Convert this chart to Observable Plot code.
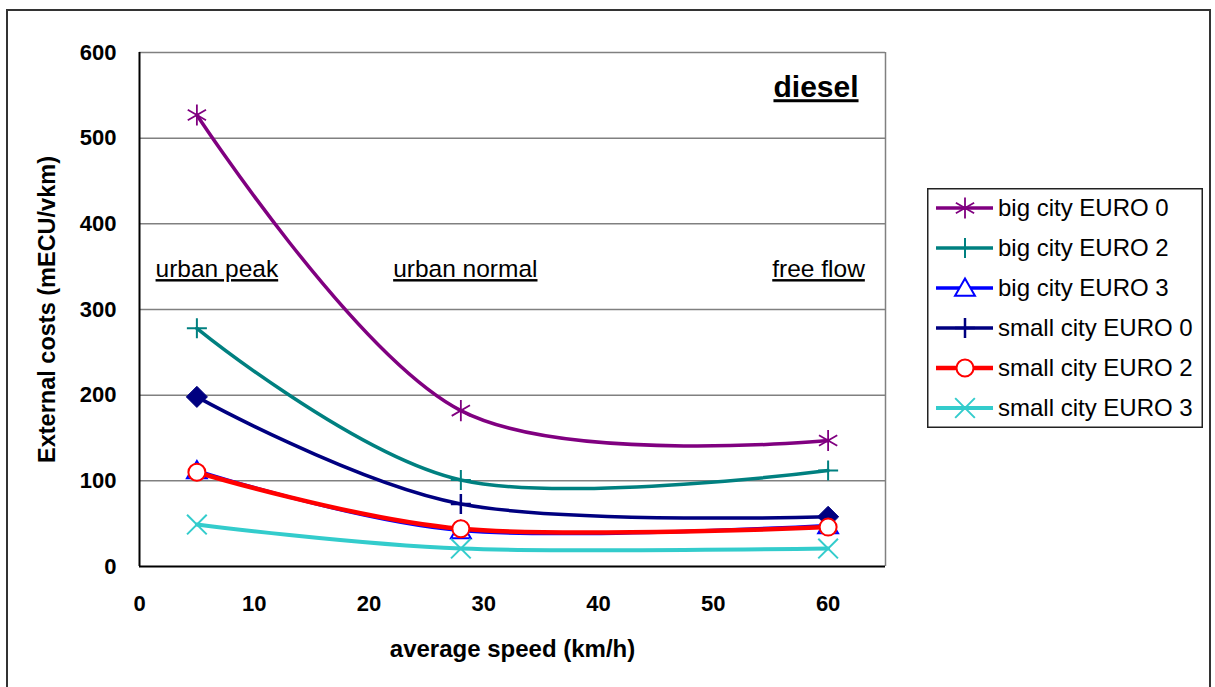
<!DOCTYPE html>
<html>
<head>
<meta charset="utf-8">
<script src="https://cdn.jsdelivr.net/npm/d3@7"></script>
<script src="https://cdn.jsdelivr.net/npm/@observablehq/plot@0.6"></script>
<style>
  html, body { margin: 0; padding: 0; background: #fff; overflow: hidden; }
  #wrap { position: relative; width: 1215px; height: 687px; font-family: "Liberation Sans", Arial, sans-serif; }
  #frame { position: absolute; left: 6px; top: 9px; width: 1205px; height: 700px; border: 2px solid #333; border-bottom: none; box-sizing: border-box; }
  #chart { position: absolute; left: 0; top: 0; }
  #legend { position: absolute; left: 927px; top: 188px; }
</style>
</head>
<body>
<div id="wrap">
  <div id="frame"></div>
  <div id="chart"></div>
  <div id="legend"></div>
</div>
<script>
// ---- data ----
const speeds = [5, 28, 60];
const seriesNames = ["big city EURO 0", "big city EURO 2", "big city EURO 3", "small city EURO 0", "small city EURO 2", "small city EURO 3"];
const bigCityEuro0 = [527, 182, 147];
const bigCityEuro2 = [278, 101, 112];
const bigCityEuro3 = [112, 42, 48];
const smallCityEuro0 = [198, 73, 58];
const smallCityEuro2 = [110, 44, 46];
const smallCityEuro3 = [49, 21, 21];
const xTicks = [0, 10, 20, 30, 40, 50, 60];
const yTicks = [0, 100, 200, 300, 400, 500, 600];
const regionLabels = ["urban peak", "urban normal", "free flow"];
const fuelLabel = "diesel";

const seriesValues = [bigCityEuro0, bigCityEuro2, bigCityEuro3, smallCityEuro0, smallCityEuro2, smallCityEuro3];
const rows = seriesNames.flatMap((name, i) => speeds.map((s, j) => ({series: name, speed: s, cost: seriesValues[i][j], idx: j})));
const bySeries = name => rows.filter(d => d.series === name);

// ---- styles ----
const FONT = "'Liberation Sans', Arial, sans-serif";
const styles = [
  {color: "#800080", width: 3.5, symbol: "asterisk", r: 10, sw: 1.8, fill: "none"},
  {color: "#008080", width: 3.5, symbol: "plus", r: 6.5, sw: 2, fill: "none"},
  {color: "#0000FF", width: 3.5, symbol: "triangle2", r: 9.5, sw: 2, fill: "white"},
  {color: "#000080", width: 3.5, symbol: "plus", r: 6.5, sw: 2.5, fill: "none"},
  {color: "#FF0000", width: 4.5, symbol: "circle", r: 8.5, sw: 2, fill: "white"},
  {color: "#33CCCC", width: 4, symbol: "times", r: 9, sw: 2, fill: "none"}
];

const seriesMarks = seriesNames.flatMap((name, i) => {
  const st = styles[i];
  const data = bySeries(name);
  const line = Plot.line(data, {x: "speed", y: "cost", curve: "cardinal", stroke: st.color, strokeWidth: st.width, strokeLinejoin: "round"});
  if (i === 3) {
    // small city EURO 0: filled diamonds at the ends, plus in the middle
    return [
      line,
      Plot.dot(data.filter(d => d.idx !== 1), {x: "speed", y: "cost", symbol: "diamond2", r: 9.5, fill: st.color, stroke: st.color, strokeWidth: 1}),
      Plot.dot(data.filter(d => d.idx === 1), {x: "speed", y: "cost", symbol: "plus", r: st.r, stroke: st.color, strokeWidth: st.sw})
    ];
  }
  return [
    line,
    Plot.dot(data, {x: "speed", y: "cost", symbol: st.symbol, r: st.r, stroke: st.color, fill: st.fill, strokeWidth: st.sw, dy: st.symbol === "triangle2" ? 2 : 0})
  ];
});

const chart = Plot.plot({
  width: 1215,
  height: 687,
  marginLeft: 139,
  marginRight: 330,
  marginTop: 52,
  marginBottom: 121,
  style: {fontFamily: FONT, background: "transparent", overflow: "visible"},
  x: {domain: [0, 65], label: null},
  y: {domain: [0, 600], label: null},
  marks: [
    Plot.ruleY(yTicks.filter(d => d > 0), {stroke: "#808080", strokeWidth: 1.5}),
    Plot.ruleX([65], {stroke: "#808080", strokeWidth: 1.5}),
    Plot.axisX({ticks: xTicks, tickSize: 0, tickPadding: 29, fontSize: 22, fontWeight: "bold", fill: "#000", label: null}),
    Plot.axisY({ticks: yTicks, tickSize: 0, tickPadding: 23, fontSize: 22, fontWeight: "bold", fill: "#000", label: null}),
    Plot.text(["average speed (km/h)"], {frameAnchor: "bottom", dy: 90, fontSize: 24, fontWeight: "bold", fill: "#000"}),
    Plot.text(["External costs (mECU/vkm)"], {frameAnchor: "left", dx: -92, rotate: -90, textAnchor: "middle", fontSize: 23.5, fontWeight: "bold", fill: "#000"}),
    Plot.text([regionLabels[0]], {x: 1.4, y: 347, textAnchor: "start", fontSize: 24.5, fill: "#000"}),
    Plot.text([regionLabels[1]], {x: 22.1, y: 347, textAnchor: "start", fontSize: 24.5, fill: "#000"}),
    Plot.text([regionLabels[2]], {x: 63.2, y: 347, textAnchor: "end", fontSize: 24.5, fill: "#000"}),
    Plot.text([fuelLabel], {x: 62.65, y: 559, textAnchor: "end", fontSize: 30, fontWeight: "bold", fill: "#000"}),
    ...seriesMarks,
    Plot.ruleX([0], {stroke: "#000", strokeWidth: 2}),
    Plot.ruleY([0], {stroke: "#000", strokeWidth: 2})
  ]
});

// underline the annotation labels
const underlined = new Set([...regionLabels, fuelLabel]);
chart.querySelectorAll("text").forEach(t => {
  if (underlined.has(t.textContent)) {
    t.style.textDecoration = "underline";
    t.style.textDecorationThickness = t.textContent === fuelLabel ? "3px" : "2px";
  }
});
document.getElementById("chart").appendChild(chart);

// ---- legend ----
const lw = 276, lh = 240;
const lsvg = d3.select("#legend").append("svg").attr("width", lw).attr("height", lh)
  .style("font-family", FONT);
lsvg.append("rect").attr("x", 0.75).attr("y", 0.75).attr("width", lw - 1.5).attr("height", lh - 1.5)
  .attr("fill", "white").attr("stroke", "#222").attr("stroke-width", 1.5);
const symMap = {asterisk: d3.symbolAsterisk, plus: d3.symbolPlus, triangle2: d3.symbolTriangle2, circle: d3.symbolCircle, times: d3.symbolTimes};
seriesNames.forEach((name, i) => {
  const st = styles[i];
  const cy = 20 + 40 * i;
  const g = lsvg.append("g");
  g.append("line").attr("x1", 9).attr("x2", 66).attr("y1", cy).attr("y2", cy)
    .attr("stroke", st.color).attr("stroke-width", st.width);
  g.append("path").attr("transform", `translate(38,${cy + (st.symbol === "triangle2" ? 2 : 0)})`)
    .attr("d", d3.symbol(symMap[st.symbol], Math.PI * st.r * st.r)())
    .attr("fill", st.fill).attr("stroke", st.color).attr("stroke-width", st.sw);
  g.append("text").attr("x", 71).attr("y", cy).attr("dy", "0.35em")
    .attr("font-size", 24).attr("fill", "#000").text(name);
});
</script>
</body>
</html>
